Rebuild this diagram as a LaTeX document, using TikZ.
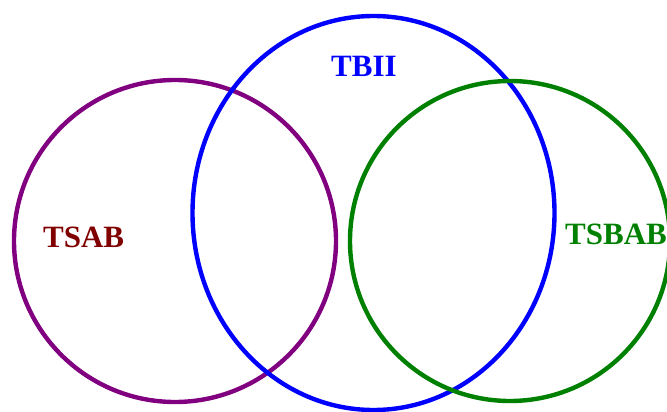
\documentclass[tikz,border=0pt]{standalone}
\usepackage{fontspec}
\setmainfont{Liberation Serif}
\begin{document}
\begin{tikzpicture}[x=1pt,y=-1pt,
  ring/.style={line width=4.4pt},
  lbl/.style={font=\fontsize{31}{31}\selectfont\bfseries, inner sep=0pt, anchor=base west}]
\useasboundingbox (0,0) rectangle (667,412);
\clip (0,0) rectangle (667,412);
\draw[ring, draw={rgb,255:red,128;green,0;blue,128}] (175,241) circle [radius=161];
\draw[ring, draw={rgb,255:red,0;green,0;blue,255}] (373.5,213) ellipse [x radius=181, y radius=197];
\draw[ring, draw={rgb,255:red,0;green,128;blue,0}] (510,241) circle [radius=160];
\node[lbl, text={rgb,255:red,128;green,0;blue,0}] (tsab) at (43,247) {TSAB};
\node[lbl, text={rgb,255:red,0;green,0;blue,255}] (tbii) at (331,77) {TBII};
\node[lbl, text={rgb,255:red,0;green,128;blue,0}] (tsbab) at (565,244) {TSBAB};
\end{tikzpicture}
\end{document}
